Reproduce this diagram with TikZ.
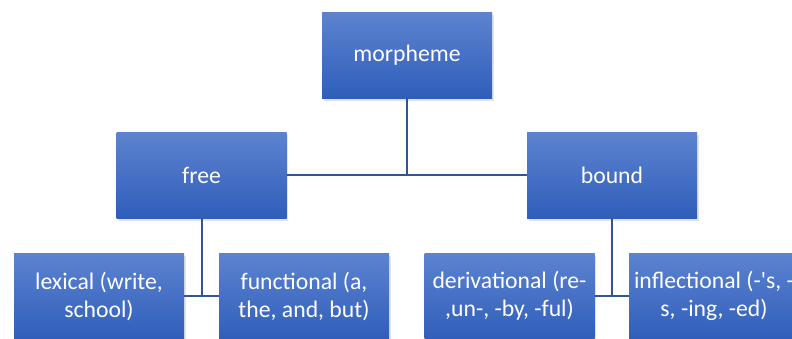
\documentclass[tikz,border=0pt]{standalone}
\usepackage{fontspec}
\newfontfamily\boxfont{Carlito}
\usetikzlibrary{shadows}
\definecolor{boxtop}{RGB}{93,131,208}
\definecolor{boxbottom}{RGB}{47,94,186}
\definecolor{linkblue}{RGB}{49,84,150}
\tikzset{
  smartbox/.style={minimum width=170pt,minimum height=86pt,inner sep=0pt,
    top color=boxtop,bottom color=boxbottom,text=white,align=center,
    font=\boxfont\fontsize{23.7}{28}\selectfont,
    drop shadow={opacity=0.22,shadow xshift=1.5pt,shadow yshift=-3pt}},
  link/.style={draw=linkblue,line width=2pt}
}
\begin{document}
\begin{tikzpicture}[x=1pt,y=-1pt]
      \useasboundingbox (0,0) rectangle (792,338);
      \clip (0,0) rectangle (792,338);
      % top level
      \node[smartbox] (morph) at (407,55) {morpheme};
      % second level
      \node[smartbox] (free) at (201.5,175) {free};
      \node[smartbox] (bound) at (612,175) {bound};
      \draw[link] (free.east) -- (bound.west);
      \draw[link] (morph.south) -- (morph.south |- free.east);
      % third level
      \node[smartbox] (lexical) at (99,296) {lexical (write,\\school)};
      \node[smartbox] (functional) at (304,296) {functional (a,\\the, and, but)};
      \node[smartbox] (deriv) at (509.5,296) {derivational (re-\\,un-, -by, -ful)};
      \node[smartbox] (inflect) at (714,296) {inflectional (-'s, -\\s, -ing, -ed)};
      \coordinate (freejoin) at (free.south |- lexical.east);
      \coordinate (boundjoin) at (bound.south |- deriv.east);
      \draw[link] (lexical.east) -- (functional.west);
      \draw[link] (free.south) -- (freejoin);
      \draw[link] (deriv.east) -- (inflect.west);
      \draw[link] (bound.south) -- (boundjoin);
\end{tikzpicture}
\end{document}
